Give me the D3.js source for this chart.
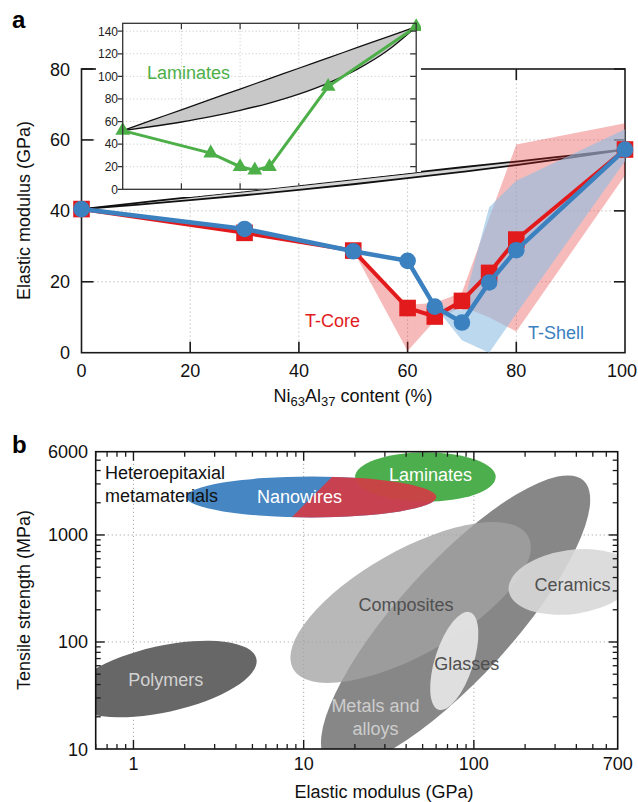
<!DOCTYPE html>
<html><head><meta charset="utf-8">
<script src="https://cdn.jsdelivr.net/npm/d3@7"></script>
<style>
html,body{margin:0;padding:0;background:#fff;}
svg{display:block;font-family:"Liberation Sans",Arial,Helvetica,sans-serif;}
</style></head><body>
<svg id="chart" width="638" height="802"></svg>
<script>
// ---------------- Panel a data ----------------
const niContent      = [0, 30, 50, 60, 65, 70, 75, 80, 100];
const modulusTCore   = [40.5, 33.8, 28.8, 12.6, 10.2, 14.6, 22.5, 31.9, 57.3];
const modulusTShell  = [40.5, 34.9, 28.6, 25.9, 13.0, 8.5, 19.8, 28.9, 57.3];
const coreBandX      = [50, 60, 65, 70, 75, 80, 100];
const coreBandHigh   = [28.8, 13.5, 14, 17, 38, 58.7, 64.7];
const coreBandLow    = [28.8, 0.5, 9, 13, 10, 6, 50];
const shellBandX     = [65, 70, 75, 80, 100];
const shellBandHigh  = [13.5, 12, 41, 48.5, 63];
const shellBandLow   = [13, 3.5, 0, 11, 54];
const boundX         = [0, 10, 20, 30, 40, 50, 60, 70, 80, 90, 100];
const mainUpperBound = [40.5, 42.2, 43.9, 45.5, 47.2, 48.9, 50.6, 52.3, 53.9, 55.6, 57.3];
const mainLowerBound = [40.5, 41.7, 43.0, 44.4, 45.9, 47.5, 49.2, 51.0, 52.9, 55.0, 57.3];
const insetUpperBound = [52, 61.2, 70.4, 79.6, 88.8, 98, 107.2, 116.4, 125.6, 134.8, 144];
const insetLowerBound = [52, 55.6, 59.6, 64.3, 69.9, 76.4, 84.3, 94.1, 106.4, 122.4, 144];
const laminateX       = [0, 30, 40, 45, 50, 70, 100];
const laminateModulus = [52, 32, 20, 17, 20, 91, 144];
const mainXTicks  = [0, 20, 40, 60, 80, 100];
const mainYTicks  = [0, 20, 40, 60, 80];
const insetXTicks = [0, 20, 40, 60, 80, 100];
const insetYTicks = [0, 20, 40, 60, 80, 100, 120, 140];

// ---------------- Panel b data ----------------
const familyNames    = ["Polymers", "Metals and alloys", "Composites", "Glasses", "Ceramics"];
const familyModulus  = [1.50, 78.1, 42.5, 76.7, 377.6];   // ellipse centre, GPa
const familyStrength = [45.1, 157, 234, 66.5, 364];      // ellipse centre, MPa
const familyMajor    = [0.559, 1.116, 0.793, 0.301, 0.376]; // half span, decades
const familyMinor    = [0.195, 0.335, 0.306, 0.113, 0.188];
const familyTilt     = [12.3, 47.7, 29.5, 72.2, 8];         // degrees
const familyLabelModulus  = [1.55, 26.4, 39.9, 90.8, 380];
const familyLabelStrength = [44.2, 20.1, 226, 63.2, 341];
const hetNames    = ["Nanowires", "Laminates"];
const hetModulus  = [11.1, 51.9];
const hetStrength = [2265, 3484];
const hetMajor    = [0.734, 0.413];
const hetMinor    = [0.120, 0.145];
const hetLabelModulus  = [9.46, 55.7];
const hetLabelStrength = [2265, 3640];
const nanowireSplitModulus  = [8.51, 14.6];
const nanowireSplitStrength = [1462, 3459];
const bXTicks = [1, 10, 100, 700];
const bYTicks = [10, 100, 1000, 6000];

// ---------------- helpers ----------------
const svg = d3.select("#chart");
const RED = "#e31a1c", BLUE = "#3b80bf", GREEN = "#4caf48";
function text(g, x, y, s, o = {}) {
  return g.append("text").attr("x", x).attr("y", y).text(s)
    .attr("font-size", o.size || 18).attr("fill", o.fill || "#111")
    .attr("text-anchor", o.anchor || "middle")
    .attr("font-weight", o.weight || "normal");
}
function line(g, x1, y1, x2, y2, o = {}) {
  return g.append("line").attr("x1", x1).attr("y1", y1).attr("x2", x2).attr("y2", y2)
    .attr("stroke", o.stroke || "#1a1a1a").attr("stroke-width", o.w || 1.5)
    .attr("stroke-dasharray", o.dash || null);
}

// ================= PANEL A =================
const xA = d3.scaleLinear().domain([0, 100]).range([81.5, 625]);
const yA = d3.scaleLinear().domain([0, 80]).range([352.7, 69]);
const xI = d3.scaleLinear().domain([0, 100]).range([122.7, 416.2]);
const yI = d3.scaleLinear().domain([0, 147]).range([189.3, 23.3]);
const gA = svg.append("g");

// grid
[20, 40, 60, 80].forEach(v => line(gA, xA(v), yA(0), xA(v), yA(80), {stroke: "#b5b5b5", w: 1, dash: "1.2,2.8"}));
[20, 40, 60].forEach(v => line(gA, xA(0), yA(v), xA(100), yA(v), {stroke: "#b5b5b5", w: 1, dash: "1.2,2.8"}));
// frame
gA.append("rect").attr("x", xA(0)).attr("y", yA(80)).attr("width", xA(100) - xA(0))
  .attr("height", yA(0) - yA(80)).attr("fill", "none").attr("stroke", "#1a1a1a").attr("stroke-width", 1.6);
mainXTicks.slice(1, -1).forEach(v => {
  line(gA, xA(v), yA(0), xA(v), yA(0) - 11, {w: 1.6});
  line(gA, xA(v), yA(80), xA(v), yA(80) + 11, {w: 1.6});
});
mainYTicks.slice(1).forEach(v => {
  line(gA, xA(0), yA(v), xA(0) + 12, yA(v), {w: 1.6});
  line(gA, xA(100), yA(v), xA(100) - 11, yA(v), {w: 1.6});
});
mainXTicks.forEach(v => text(gA, v === 100 ? 622 : xA(v), 376.7, v));
mainYTicks.forEach(v => text(gA, 70, yA(v) + 6.5, v, {anchor: "end"}));
text(gA, 30, 210.5, "Elastic modulus (GPa)").attr("transform", "rotate(-90,30,210.5)");
{
  const t = gA.append("text").attr("x", 353).attr("y", 402).attr("text-anchor", "middle")
    .attr("font-size", 18).attr("fill", "#111");
  t.append("tspan").text("Ni");
  t.append("tspan").text("63").attr("font-size", 13).attr("dy", 4);
  t.append("tspan").text("Al").attr("dy", -4);
  t.append("tspan").text("37").attr("font-size", 13).attr("dy", 4);
  t.append("tspan").text(" content (%)").attr("dy", -4);
}
text(svg, 12, 28.3, "a", {size: 24, weight: "bold", anchor: "start", fill: "#000"});

// ---- inset (clipped under the main bounds band) ----
const voigtAt = d3.scaleLinear().domain(boundX).range(mainUpperBound);
const clipPts = [[96, 6], [421, 6]];
for (let px = 421; px >= 96; px -= 1) {
  clipPts.push([px, Math.min(197, yA(voigtAt(xA.invert(px))))]);
}
const defs = svg.append("defs");
defs.append("clipPath").attr("id", "insetClip").append("polygon")
  .attr("points", clipPts.map(p => p.join(",")).join(" "));
const gI = svg.append("g").attr("clip-path", "url(#insetClip)");
gI.append("rect").attr("x", 96).attr("y", 6).attr("width", 325).attr("height", 191).attr("fill", "#fff");
insetXTicks.slice(1, -1).forEach(v => line(gI, xI(v), yI(0), xI(v), yI(147), {stroke: "#c4c4c4", w: 1, dash: "1,2.5"}));
insetYTicks.slice(1).forEach(v => line(gI, xI(0), yI(v), xI(100), yI(v), {stroke: "#c4c4c4", w: 1, dash: "1,2.5"}));
const insetBand = boundX.map((x, i) => ({x, lo: insetLowerBound[i], hi: insetUpperBound[i]}));
gI.append("path").datum(insetBand)
  .attr("d", d3.area().x(d => xI(d.x)).y0(d => yI(d.lo)).y1(d => yI(d.hi)).curve(d3.curveMonotoneX))
  .attr("fill", "#c8c8c8");
["lo", "hi"].forEach(k => gI.append("path").datum(insetBand)
  .attr("d", d3.line().x(d => xI(d.x)).y(d => yI(d[k])).curve(d3.curveMonotoneX))
  .attr("fill", "none").attr("stroke", "#111").attr("stroke-width", 1.3));
gI.append("path").datum(laminateX.map((x, i) => [x, laminateModulus[i]]))
  .attr("d", d3.line().x(d => xI(d[0])).y(d => yI(d[1])))
  .attr("fill", "none").attr("stroke", GREEN).attr("stroke-width", 3);
gI.selectAll(".tri").data(laminateX.map((x, i) => [x, laminateModulus[i]])).join("path")
  .attr("d", d3.symbol(d3.symbolTriangle).size(95)())
  .attr("transform", d => `translate(${xI(d[0])},${yI(d[1])})`).attr("fill", GREEN);
gI.append("rect").attr("x", xI(0)).attr("y", yI(147)).attr("width", xI(100) - xI(0))
  .attr("height", yI(0) - yI(147)).attr("fill", "none").attr("stroke", "#333").attr("stroke-width", 1.3);
insetYTicks.forEach(v => {
  line(gI, xI(0) - 5, yI(v), xI(0), yI(v), {stroke: "#333", w: 1.2});
  if (v > 0) line(gI, xI(100), yI(v), xI(100) - 6, yI(v), {stroke: "#333", w: 1.2});
  text(gI, 118, yI(v) + 4.3, v, {size: 12, anchor: "end", fill: "#222"});
});
insetXTicks.slice(1, -1).forEach(v => {
  line(gI, xI(v), yI(0), xI(v), yI(0) - 6, {stroke: "#333", w: 1.2});
  line(gI, xI(v), yI(147), xI(v), yI(147) + 6, {stroke: "#333", w: 1.2});
});
text(gI, 147, 79, "Laminates", {anchor: "start", fill: GREEN});

// ---- main bounds band ----
const mainBand = boundX.map((x, i) => ({x, lo: mainLowerBound[i], hi: mainUpperBound[i]}));
gA.append("path").datum(mainBand)
  .attr("d", d3.area().x(d => xA(d.x)).y0(d => yA(d.lo)).y1(d => yA(d.hi)).curve(d3.curveMonotoneX))
  .attr("fill", "#d6d6d6");
["lo", "hi"].forEach(k => gA.append("path").datum(mainBand)
  .attr("d", d3.line().x(d => xA(d.x)).y(d => yA(d[k])).curve(d3.curveMonotoneX))
  .attr("fill", "none").attr("stroke", "#111").attr("stroke-width", 1.8));

// ---- spread bands ----
gA.append("path").datum(coreBandX.map((x, i) => ({x, lo: coreBandLow[i], hi: coreBandHigh[i]})))
  .attr("d", d3.area().x(d => xA(d.x)).y0(d => yA(d.lo)).y1(d => yA(d.hi)))
  .attr("fill", "#e41a1c").attr("fill-opacity", 0.3);
gA.append("path").datum(shellBandX.map((x, i) => ({x, lo: shellBandLow[i], hi: shellBandHigh[i]})))
  .attr("d", d3.area().x(d => xA(d.x)).y0(d => yA(d.lo)).y1(d => yA(d.hi)))
  .attr("fill", "rgb(142,190,227)").attr("fill-opacity", 0.6);

// ---- series ----
const core = niContent.map((x, i) => [x, modulusTCore[i]]);
const shell = niContent.map((x, i) => [x, modulusTShell[i]]);
gA.append("path").datum(core).attr("d", d3.line().x(d => xA(d[0])).y(d => yA(d[1])))
  .attr("fill", "none").attr("stroke", RED).attr("stroke-width", 4);
gA.selectAll(".sq").data(core).join("rect")
  .attr("x", d => xA(d[0]) - 8.3).attr("y", d => yA(d[1]) - 8.3)
  .attr("width", 16.6).attr("height", 16.6).attr("fill", RED);
gA.append("path").datum(shell).attr("d", d3.line().x(d => xA(d[0])).y(d => yA(d[1])))
  .attr("fill", "none").attr("stroke", BLUE).attr("stroke-width", 4.5);
gA.selectAll(".ci").data(shell).join("circle")
  .attr("cx", d => xA(d[0])).attr("cy", d => yA(d[1])).attr("r", 8.3).attr("fill", BLUE);
text(gA, 305, 327, "T-Core", {anchor: "start", fill: RED});
text(gA, 528, 339, "T-Shell", {anchor: "start", fill: BLUE});

// ================= PANEL B =================
const xB = d3.scaleLog().domain([0.6, 700]).range([95.7, 617.7]);
const yB = d3.scaleLog().domain([10, 6000]).range([749, 451.7]);
const dec = xB(10) - xB(1);
const gB = svg.append("g");
defs.append("clipPath").attr("id", "bClip").append("rect")
  .attr("x", xB(0.6)).attr("y", yB(6000)).attr("width", xB(700) - xB(0.6)).attr("height", yB(10) - yB(6000));
[1, 10, 100].forEach(v => line(gB, xB(v), yB(10), xB(v), yB(6000), {stroke: "#a8a8a8", w: 1, dash: "1.2,2.8"}));
[100, 1000].forEach(v => line(gB, xB(0.6), yB(v), xB(700), yB(v), {stroke: "#a8a8a8", w: 1, dash: "1.2,2.8"}));

const gE = gB.append("g").attr("clip-path", "url(#bClip)");
function ellipse(E, S, maj, min, tilt) {
  const cx = xB(E), cy = yB(S);
  return gE.append("ellipse").attr("cx", cx).attr("cy", cy)
    .attr("rx", maj * dec).attr("ry", min * dec)
    .attr("transform", `rotate(${-tilt},${cx},${cy})`);
}
const famFill = ["#676767", "#878787", "rgb(163,163,163)", "#e4e4e4", "#d8d8d8"];
const famOpacity = [1, 1, 0.77, 0.95, 0.9];
familyNames.forEach((n, i) => ellipse(familyModulus[i], familyStrength[i], familyMajor[i], familyMinor[i], familyTilt[i])
  .attr("fill", famFill[i]).attr("fill-opacity", famOpacity[i]));
// Nanowires: blue body, red part beyond the split line
ellipse(hetModulus[0], hetStrength[0], hetMajor[0], hetMinor[0], 0).attr("fill", "#4686c2");
ellipse(hetModulus[1], hetStrength[1], hetMajor[1], hetMinor[1], 0).attr("fill", "#4cae4c");
{
  const p0 = [xB(nanowireSplitModulus[0]), yB(nanowireSplitStrength[0])];
  const p1 = [xB(nanowireSplitModulus[1]), yB(nanowireSplitStrength[1])];
  const d = [p1[0] - p0[0], p1[1] - p0[1]];
  const a = [p0[0] - d[0] * 2, p0[1] - d[1] * 2], b = [p1[0] + d[0] * 2, p1[1] + d[1] * 2];
  defs.append("clipPath").attr("id", "nwClip").append("polygon")
    .attr("points", [a, b, [b[0] + 600, b[1]], [a[0] + 600, a[1]]].map(p => p.join(",")).join(" "));
  ellipse(hetModulus[0], hetStrength[0], hetMajor[0], hetMinor[0], 0)
    .attr("fill", "#d63a45").attr("fill-opacity", 0.9).attr("clip-path", "url(#nwClip)");
}
// labels
const famLabelFill = ["#d2d2d2", "#cdcdcd", "#505050", "#505050", "#505050"];
familyNames.forEach((n, i) => {
  const t = gB.append("text").attr("text-anchor", "middle").attr("font-size", 18).attr("fill", famLabelFill[i]);
  const x = xB(familyLabelModulus[i]), y = yB(familyLabelStrength[i]);
  if (n === "Metals and alloys") {
    t.append("tspan").attr("x", x).attr("y", y - 5).text("Metals and");
    t.append("tspan").attr("x", x).attr("y", y + 18).text("alloys");
  } else {
    t.attr("x", x).attr("y", y + 6.5).text(n);
  }
});
hetNames.forEach((n, i) => text(gB, xB(hetLabelModulus[i]), yB(hetLabelStrength[i]) + 6.5, n, {fill: "#fff"}));
text(gB, 105, 478.5, "Heteroepitaxial", {anchor: "start", fill: "#111"});
text(gB, 105, 501.7, "metamaterials", {anchor: "start", fill: "#111"});

// frame & ticks
gB.append("rect").attr("x", xB(0.6)).attr("y", yB(6000)).attr("width", xB(700) - xB(0.6))
  .attr("height", yB(10) - yB(6000)).attr("fill", "none").attr("stroke", "#111").attr("stroke-width", 1.6);
const xMinor = [], yMinor = [];
[0.1, 1, 10, 100].forEach(b => { for (let k = 2; k <= 9; k++) { const v = b * k; if (v > 0.6 && v < 700) xMinor.push(v); } });
[10, 100, 1000].forEach(b => { for (let k = 2; k <= 9; k++) { const v = b * k; if (v < 6000) yMinor.push(v); } });
[1, 10, 100].forEach(v => {
  line(gB, xB(v), yB(10), xB(v), yB(10) - 9, {w: 1.4});
  line(gB, xB(v), yB(6000), xB(v), yB(6000) + 9, {w: 1.4});
});
xMinor.forEach(v => {
  line(gB, xB(v), yB(10), xB(v), yB(10) - 5, {w: 1.3});
  line(gB, xB(v), yB(6000), xB(v), yB(6000) + 5, {w: 1.3});
});
[100, 1000].forEach(v => {
  line(gB, xB(0.6), yB(v), xB(0.6) + 9, yB(v), {w: 1.4});
  line(gB, xB(700), yB(v), xB(700) - 9, yB(v), {w: 1.4});
});
yMinor.forEach(v => {
  line(gB, xB(0.6), yB(v), xB(0.6) + 5, yB(v), {w: 1.3});
  line(gB, xB(700), yB(v), xB(700) - 5, yB(v), {w: 1.3});
});
bXTicks.forEach(v => text(gB, xB(v), 770, v));
bYTicks.forEach(v => text(gB, 88, yB(v) + 6.5, v, {anchor: "end"}));
text(gB, 384, 798, "Elastic modulus (GPa)");
text(gB, 30, 600, "Tensile strength (MPa)").attr("transform", "rotate(-90,30,600)");
text(svg, 12, 453, "b", {size: 24, weight: "bold", anchor: "start", fill: "#000"});
</script>
</body></html>
